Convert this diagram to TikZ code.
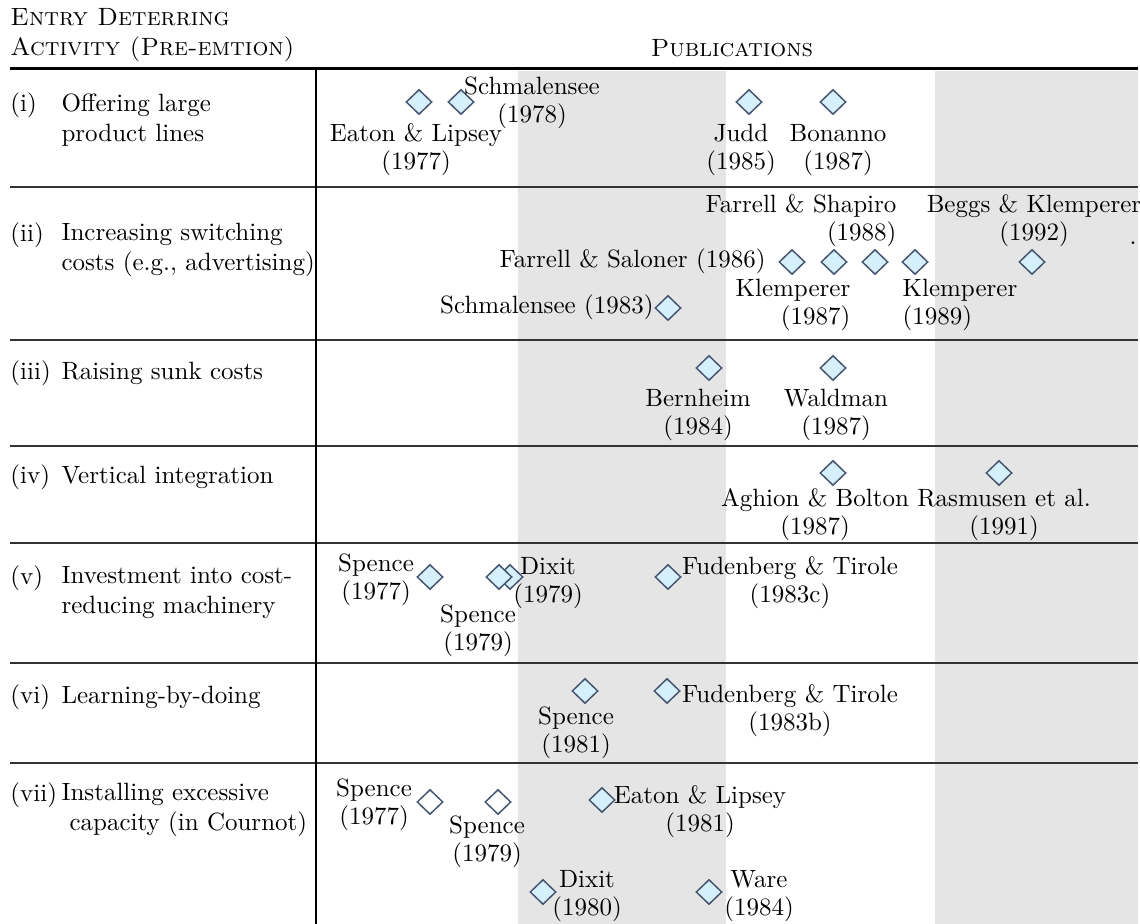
\documentclass[tikz,border=0pt]{standalone}
\usepackage{tikz}
\usetikzlibrary{shapes.geometric}
\definecolor{pubfill}{HTML}{D6F0FB}
\definecolor{pubedge}{HTML}{465670}

\begin{document}
\begin{tikzpicture}[x=0.4pt,y=-0.4pt,
    pub/.style={diamond,draw=pubedge,fill=pubfill,line width=0.6pt,inner sep=0pt,minimum width=10.4pt,minimum height=10pt},
    pubw/.style={pub,fill=white},
    ref/.style={align=center,inner sep=0pt,font=\fontsize{10}{11.2}\selectfont},
    act/.style={anchor=west,align=left,inner sep=0pt},
    rule/.style={black!80,line width=0.6pt}]
        \useasboundingbox (0,0) rectangle (1140,924);

        \fill[gray!20] (518,71) rectangle (726,924);
        \fill[gray!20] (935,71) rectangle (1138,924);

        \draw[black,line width=1.2pt] (10,69) -- (1138,69);
        \draw[rule] (10,187) -- (1138,187);
        \draw[rule] (10,340) -- (1138,340);
        \draw[rule] (10,446) -- (1138,446);
        \draw[rule] (10,543) -- (1138,543);
        \draw[rule] (10,663) -- (1138,663);
        \draw[rule] (10,763) -- (1138,763);
        \draw[black,line width=0.6pt] (316,69) -- (316,924);

        \node[act] (hd) at (10,35) {\textsc{Entry Deterring}\\\textsc{Activity (Pre-emtion)}};
        \node (pb) at (732,48) {\textsc{Publications}};

        \node[act] (r1) at (10,105) {(i)};
        \node[act] (a1) at (61,120) {Offering large\\product lines};
        \node[act] (r2) at (10,235) {(ii)};
        \node[act] (a2) at (61,250) {Increasing switching\\costs (e.g., advertising)};
        \node[act] (r3) at (10,373) {(iii)};
        \node[act] (a3) at (61,373) {Raising sunk costs};
        \node[act] (r4) at (10,477) {(iv)};
        \node[act] (a4) at (61,477) {Vertical integration};
        \node[act] (r5) at (10,578) {(v)};
        \node[act] (a5) at (61,593) {Investment into cost-\\reducing machinery};
        \node[act] (r6) at (10,697) {(vi)};
        \node[act] (a6) at (61,697) {Learning-by-doing};
        \node[act] (r7) at (10,795) {(vii)};
        \node[act] (a7) at (61,810) {Installing excessive\\\hspace*{3.2pt}capacity (in Cournot)};

        \node[pub] (el77) at (419,102) {};
        \node[pub] (sc78) at (461,102) {};
        \node[pub] (ju85) at (749,102) {};
        \node[pub] (bo87) at (833,102) {};
        \node[ref] (el77l) at (416,150) {Eaton \& Lipsey\\(1977)};
        \node[ref] (sc78l) at (532,103) {Schmalensee\\(1978)};
        \node[ref] (ju85l) at (741,150) {Judd\\(1985)};
        \node[ref] (bo87l) at (838,150) {Bonanno\\(1987)};

        \node[pub] (sc83) at (668,308) {};
        \node[pub] (fs86) at (792,262) {};
        \node[pub] (kl87) at (834,262) {};
        \node[pub] (fs88) at (875,262) {};
        \node[pub] (kl89) at (915,262) {};
        \node[pub] (bk92) at (1032,262) {};
        \node[ref,anchor=east] (sc83l) at (654,307) {Schmalensee (1983)};
        \node[ref,anchor=east] (fs86l) at (766,261) {Farrell \& Saloner (1986)};
        \node[ref,align=right] (kl87l) at (793,305) {Klemperer\\(1987)};
        \node[ref,align=right] (fs88l) at (801,221) {Farrell \& Shapiro\\(1988)};
        \node[ref,align=left] (kl89l) at (960,305) {Klemperer\\(1989)};
        \node[ref] (bk92l) at (1034,221) {Beggs \& Klemperer\\(1992)};
        \node[anchor=base,inner sep=0pt] (dot) at (1133,245) {.};

        \node[pub] (be84) at (709,368) {};
        \node[pub] (wa87) at (833,368) {};
        \node[ref] (be84l) at (698,415) {Bernheim\\(1984)};
        \node[ref] (wa87l) at (836,415) {Waldman\\(1987)};

        \node[pub] (ab87) at (833,473) {};
        \node[pub] (ra91) at (999,473) {};
        \node[ref] (ab87l) at (815,515) {Aghion \& Bolton\\(1987)};
        \node[ref] (ra91l) at (1004,515) {Rasmusen et al.\\(1991)};

        \node[pub] (sp77) at (430,577) {};
        \node[pub] (di79) at (510,577) {};
        \node[pub] (sp79) at (499,577) {};
        \node[pub] (ft83c) at (668,577) {};
        \node[ref] (sp77l) at (376,580) {Spence\\(1977)};
        \node[ref] (sp79l) at (478,631) {Spence\\(1979)};
        \node[ref] (di79l) at (548,583) {Dixit\\(1979)};
        \node[ref] (ft83cl) at (790,583) {Fudenberg \& Tirole\\(1983c)};

        \node[pub] (sp81) at (585,691) {};
        \node[pub] (ft83b) at (667,691) {};
        \node[ref] (sp81l) at (576,733) {Spence\\(1981)};
        \node[ref] (ft83bl) at (790,711) {Fudenberg \& Tirole\\(1983b)};

        \node[pubw] (sp77c) at (430,802) {};
        \node[pubw] (sp79c) at (498,802) {};
        \node[pub] (el81) at (602,800) {};
        \node[pub] (di80) at (543,892) {};
        \node[pub] (wa84) at (709,892) {};
        \node[ref] (sp77cl) at (374,805) {Spence\\(1977)};
        \node[ref] (sp79cl) at (487,842) {Spence\\(1979)};
        \node[ref] (el81l) at (700,812) {Eaton \& Lipsey\\(1981)};
        \node[ref] (di80l) at (587,896) {Dixit\\(1980)};
        \node[ref] (wa84l) at (759,896) {Ware\\(1984)};
      \end{tikzpicture}
\end{document}
